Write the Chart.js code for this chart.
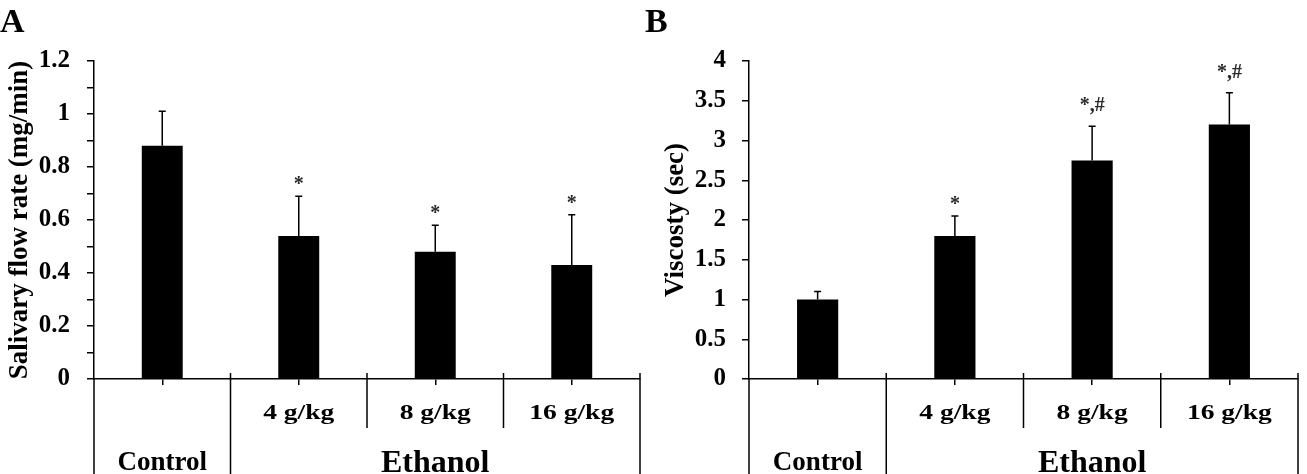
<!DOCTYPE html>
<html><head><meta charset="utf-8">
<script src="https://cdn.jsdelivr.net/npm/chart.js@4/dist/chart.umd.min.js"></script>
<style>
html,body{margin:0;padding:0;background:#fff;}
#wrap{position:relative;width:1307px;height:474px;overflow:hidden;background:#fff}
canvas{position:absolute;top:0}
</style></head><body>
<div id="wrap">
<canvas id="cA" width="642" height="474" style="left:0px"></canvas>
<canvas id="cB" width="665" height="474" style="left:642px"></canvas>
</div>
<script>
// ---- data ----
const categories = ['Control', '4 g/kg', '8 g/kg', '16 g/kg'];
const groupLabel = 'Ethanol';
const panelLetters = ['A', 'B'];

const flowTitle = 'Salivary flow rate (mg/min)';
const flowMeans = [0.88, 0.54, 0.48, 0.43];
const flowErrors = [0.13, 0.15, 0.10, 0.19];
const flowMarks = ['', '*', '*', '*'];
const flowTicks = [0, 0.1, 0.2, 0.3, 0.4, 0.5, 0.6, 0.7, 0.8, 0.9, 1.0, 1.1, 1.2];
const flowTickLabels = ['0', '', '0.2', '', '0.4', '', '0.6', '', '0.8', '', '1', '', '1.2'];

const viscTitle = 'Viscosty (sec)';
const viscMeans = [1.0, 1.8, 2.75, 3.2];
const viscErrors = [0.1, 0.25, 0.43, 0.4];
const viscMarks = ['', '*', '*,#', '*,#'];
const viscTicks = [0, 0.5, 1, 1.5, 2, 2.5, 3, 3.5, 4];
const viscTickLabels = ['0', '0.5', '1', '1.5', '2', '2.5', '3', '3.5', '4'];

// ---- styling / drawing ----
const SERIF = '"Liberation Serif", "Times New Roman", serif';

function extras(cfg) {
  return {
    id: 'extras',
    afterDatasetsDraw(chart) {
      const ctx = chart.ctx, xs = chart.scales.x, ys = chart.scales.y;
      ctx.save();
      ctx.strokeStyle = '#000';
      ctx.lineWidth = 1.5;
      cfg.means.forEach((m, i) => {
        const cx = xs.getPixelForValue(i);
        const y0 = ys.getPixelForValue(m);
        const y1 = ys.getPixelForValue(m + cfg.errors[i]);
        ctx.beginPath();
        ctx.moveTo(cx, y0); ctx.lineTo(cx, y1);
        ctx.moveTo(cx - 3.5, y1); ctx.lineTo(cx + 3.5, y1);
        ctx.stroke();
        const mk = cfg.marks[i];
        if (mk) {
          ctx.fillStyle = '#2a2a2a';
          ctx.font = 'bold 20px ' + SERIF;
          ctx.textAlign = 'center';
          ctx.textBaseline = 'alphabetic';
          ctx.fillText(mk, cx, y1 - (mk.length > 1 ? 15 : 6));
        }
      });
      ctx.restore();
    },
    afterDraw(chart) {
      const ctx = chart.ctx, xs = chart.scales.x;
      const ca = chart.chartArea, H = chart.height;
      const b = ca.bottom, L = ca.left, R = ca.right;
      const c = categories.map((_, i) => xs.getPixelForValue(i));
      const sep = i => (c[i - 1] + c[i]) / 2;
      ctx.save();
      ctx.strokeStyle = '#000';
      ctx.lineWidth = 1.5;
      const seg = (x, ya, yb) => { ctx.beginPath(); ctx.moveTo(x, ya); ctx.lineTo(x, yb); ctx.stroke(); };
      seg(L, b, H);
      seg(sep(1), b - 6, H);
      for (let i = 2; i < categories.length; i++) seg(sep(i), b - 6, b + 49);
      seg(R, b - 6, H);
      ctx.fillStyle = '#000';
      ctx.textAlign = 'center';
      ctx.textBaseline = 'alphabetic';
      // dose labels (slightly widened like the original)
      ctx.font = 'bold 22px ' + SERIF;
      for (let i = 1; i < categories.length; i++) {
        ctx.save();
        ctx.translate(c[i], b + 40);
        ctx.scale(1.25, 1);
        ctx.fillText(categories[i], 0, 0);
        ctx.restore();
      }
      ctx.font = 'bold 27px ' + SERIF;
      ctx.fillText(categories[0], c[0], H - 4);
      ctx.font = 'bold 32px ' + SERIF;
      ctx.fillText(groupLabel, (sep(1) + R) / 2, H - 2);
      // panel letter
      ctx.font = 'bold 34px ' + SERIF;
      ctx.textAlign = 'left';
      ctx.fillText(cfg.letter, cfg.letterX, 32);
      ctx.restore();
    }
  };
}

function makeChart(id, o) {
  return new Chart(document.getElementById(id), {
    type: 'bar',
    data: {
      labels: categories,
      datasets: [{
        data: o.means,
        backgroundColor: '#000',
        borderWidth: 0,
        barPercentage: 0.3,
        categoryPercentage: 1.0
      }]
    },
    options: {
      responsive: false,
      animation: false,
      events: [],
      layout: { padding: { top: 61, left: o.padLeft, right: o.padRight, bottom: 0 } },
      plugins: { legend: { display: false }, tooltip: { enabled: false } },
      scales: {
        x: {
          type: 'category',
          offset: true,
          ticks: { display: false },
          grid: { display: true, drawOnChartArea: false, drawTicks: true, tickLength: 6, offset: false, color: '#000', lineWidth: 1.5 },
          border: { display: true, color: '#000', width: 1.5 },
          afterFit: s => { s.height = 95; }
        },
        y: {
          min: o.ticks[0],
          max: o.ticks[o.ticks.length - 1],
          afterBuildTicks: s => { s.ticks = o.ticks.map(v => ({ value: v })); },
          ticks: {
            autoSkip: false,
            padding: o.tickPad,
            color: '#000',
            font: { family: SERIF, size: 25, weight: 'bold' },
            callback: (v, i) => o.tickLabels[i]
          },
          grid: { display: true, drawOnChartArea: false, drawTicks: true, tickLength: 7, color: '#000', lineWidth: 1.5 },
          border: { display: true, color: '#000', width: 1.5 },
          title: {
            display: true,
            text: o.title,
            color: '#000',
            font: { family: SERIF, size: 27, weight: 'bold' },
            padding: { top: 4, bottom: 0 }
          },
          afterFit: s => { s.width = o.yWidth; }
        }
      }
    },
    plugins: [extras(o)]
  });
}

makeChart('cA', {
  means: flowMeans, errors: flowErrors, marks: flowMarks,
  ticks: flowTicks, tickLabels: flowTickLabels, title: flowTitle,
  padLeft: 0, padRight: 2, yWidth: 94, tickPad: 17,
  letter: panelLetters[0], letterX: 0
});
makeChart('cB', {
  means: viscMeans, errors: viscErrors, marks: viscMarks,
  ticks: viscTicks, tickLabels: viscTickLabels, title: viscTitle,
  padLeft: 14, padRight: 9, yWidth: 93, tickPad: 16,
  letter: panelLetters[1], letterX: 3
});
</script>
</body></html>
